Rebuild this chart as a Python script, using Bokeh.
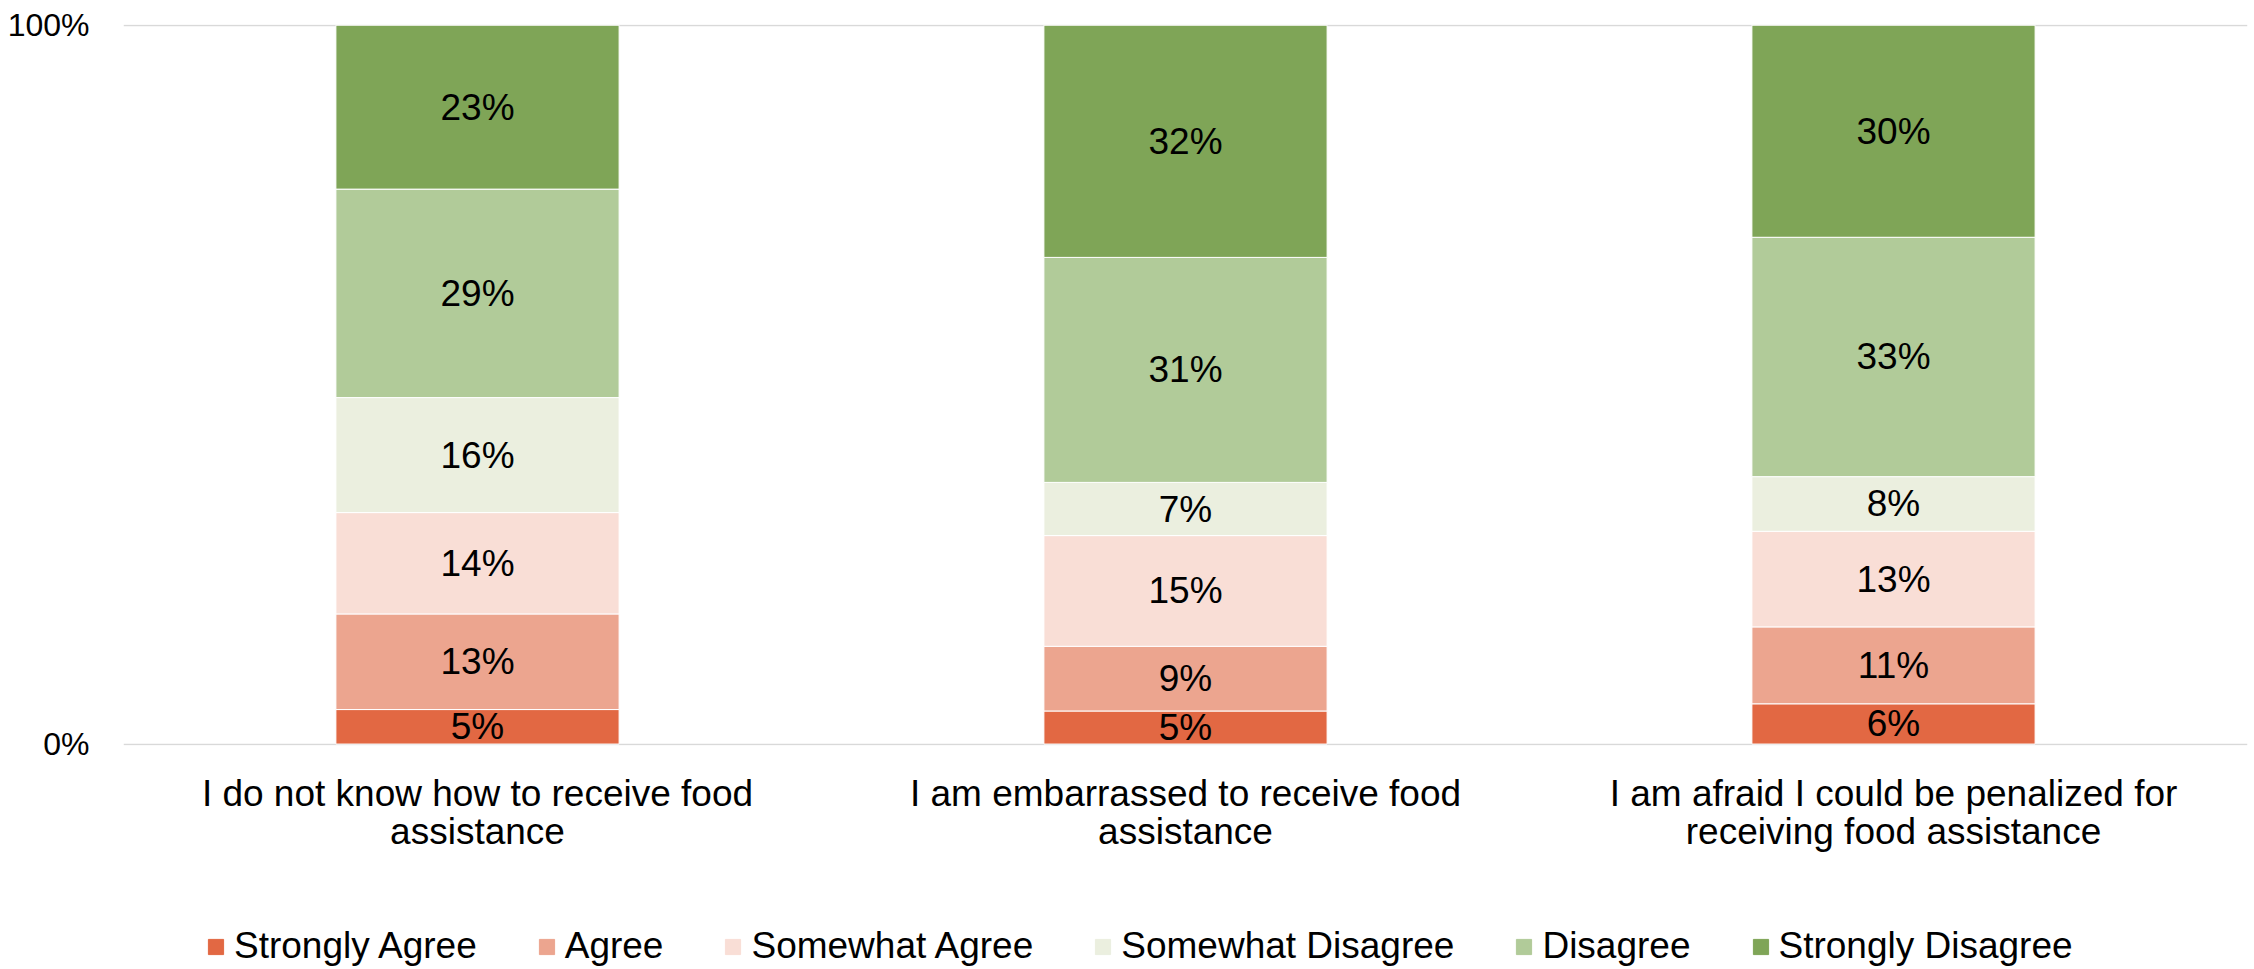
from bokeh.plotting import figure
from bokeh.models import ColumnDataSource, FixedTicker, Legend, LegendItem
from bokeh.layouts import column
from bokeh.core.properties import value
from bokeh.embed import file_html
from bokeh.resources import INLINE

# ---- data ----
categories = [
    "I do not know how to receive food\nassistance",
    "I am embarrassed to receive food\nassistance",
    "I am afraid I could be penalized for\nreceiving food assistance",
]
levels = ["Strongly Agree", "Agree", "Somewhat Agree",
          "Somewhat Disagree", "Disagree", "Strongly Disagree"]
strongly_agree = [4.8, 4.6, 5.6]
agree = [13.3, 9.0, 10.7]
somewhat_agree = [14.1, 15.4, 13.3]
somewhat_disagree = [16.0, 7.4, 7.6]
disagree = [29.0, 31.3, 33.3]
strongly_disagree = [22.8, 32.3, 29.5]
y_ticks = [0, 100]
y_tick_labels = ["0%", "100%"]

colors = ["#E26843", "#ECA58F", "#F9DED6", "#EBEFDF", "#B1CB99", "#7FA557"]
series = [strongly_agree, agree, somewhat_agree,
          somewhat_disagree, disagree, strongly_disagree]

FONT = "Liberation Sans"
W, H = 2254, 969
H_LEG = 99

src = ColumnDataSource(dict(x=categories, **{lv: s for lv, s in zip(levels, series)}))

p = figure(x_range=categories, y_range=(-0.2, 100.1), width=W, height=H - H_LEG,
           output_backend="svg", toolbar_location=None,
           min_border_top=24, min_border_left=123, min_border_right=7,
           min_border_bottom=H - H_LEG - 745)
p.outline_line_color = None
p.background_fill_color = "white"

renderers = p.vbar_stack(levels, x="x", width=0.4, color=colors, source=src,
                         line_color="white", line_width=1)

# data labels at segment centres
lx, ly, lt = [], [], []
bottoms = [0.0] * len(categories)
for s in series:
    for i, v in enumerate(s):
        lx.append(categories[i])
        ly.append(bottoms[i] + v / 2)
        lt.append(f"{v:.0f}%")
        bottoms[i] += v
p.text(x=lx, y=ly, text=lt, text_align="center", text_baseline="middle",
       text_font=value(FONT), text_font_size="37px", text_color="black")

# axes
p.yaxis.ticker = FixedTicker(ticks=y_ticks)
p.yaxis.major_label_overrides = {t: l for t, l in zip(y_ticks, y_tick_labels)}
p.yaxis.axis_line_color = None
p.yaxis.major_tick_line_color = None
p.yaxis.minor_tick_line_color = None
p.yaxis.major_label_standoff = 28
p.yaxis.major_label_text_font = FONT
p.yaxis.major_label_text_font_size = "32px"
p.yaxis.major_label_text_color = "black"

p.xaxis.axis_line_color = None
p.xaxis.major_tick_line_color = None
p.xaxis.major_label_standoff = 21
p.xaxis.major_label_text_font = FONT
p.xaxis.major_label_text_font_size = "37px"
p.xaxis.major_label_text_color = "black"
p.xaxis.major_label_text_line_height = 0.95

p.xgrid.grid_line_color = None
p.ygrid.ticker = FixedTicker(ticks=y_ticks)
p.ygrid.grid_line_color = "#D9D9D9"
p.ygrid.grid_line_width = 1.5

# legend strip below the chart (legend-only renderers, nothing drawn)
nan = float("nan")
p2 = figure(width=W, height=H_LEG, output_backend="svg", toolbar_location=None,
            min_border=0, x_axis_type=None, y_axis_type=None,
            x_range=(0, 1), y_range=(0, 1))
p2.outline_line_color = None
p2.grid.visible = False
leg_renderers = [p2.vbar(x=[nan], top=[nan], width=0.1, color=c) for c in colors]

legend = Legend(items=[LegendItem(label=lv, renderers=[r]) for lv, r in zip(levels, leg_renderers)],
                location=(83, 2), orientation="horizontal",
                glyph_width=19, glyph_height=19, label_standoff=9, spacing=60,
                padding=0, margin=0, border_line_alpha=0, background_fill_alpha=0,
                label_text_font=FONT, label_text_font_size="37px",
                label_text_color="black")
p2.add_layout(legend, "center")

layout = column(p, p2, spacing=0)
open("out.html", "w").write(file_html(layout, INLINE))
